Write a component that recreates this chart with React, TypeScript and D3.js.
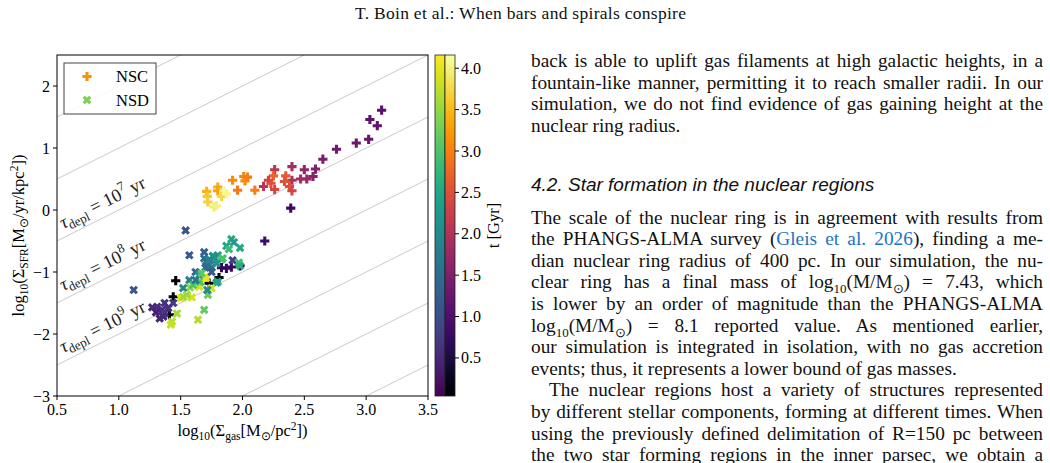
import React, { useLayoutEffect, useRef } from "react";
import * as d3 from "d3";

// nuclear star cluster (r < 150 pc): log gas surface density, log SFR surface density, time [Gyr]
const nscGas = [3.125, 3.03, 3.09, 3.02, 2.92, 2.76, 2.65, 2.59, 2.5, 2.4, 2.26, 2.57, 2.52, 2.47, 2.4, 2.35, 2.25, 2.21, 2.17, 2.23, 2.26, 2.34, 2.38, 2.4, 2.1, 2.01, 2.02, 2.04, 1.92, 1.96, 1.71, 1.715, 1.72, 1.77, 1.79, 1.8, 1.8, 1.85, 1.83, 1.87, 2.39, 2.18, 1.46, 1.44, 1.81, 1.73, 1.83, 1.87, 1.91, 1.98, 1.41];
const nscSfr = [1.61, 1.46, 1.36, 1.14, 1.08, 0.98, 0.82, 0.66, 0.65, 0.7, 0.65, 0.54, 0.5, 0.5, 0.48, 0.55, 0.55, 0.48, 0.38, 0.43, 0.33, 0.46, 0.38, 0.31, 0.32, 0.54, 0.47, 0.53, 0.48, 0.32, 0.3, 0.22, 0.13, 0.05, 0.07, 0.37, 0.31, 0.3, 0.22, 0.26, 0.03, -0.5, -1.14, -1.4, -1.09, -1.18, -0.93, -0.94, -0.92, -0.9, -1.69];
const nscAge = [1.1, 1.15, 1.2, 1.25, 1.3, 1.35, 1.45, 1.55, 1.7, 1.9, 2.1, 1.6, 1.75, 1.85, 1.95, 2.6, 2.7, 2.3, 2.1, 2.5, 2.4, 2.55, 2.5, 2.35, 3.0, 3.05, 3.1, 3.0, 3.1, 2.95, 3.45, 3.6, 3.7, 3.95, 4.0, 3.4, 3.3, 4.1, 3.75, 4.05, 0.8, 0.85, 0.1, 0.15, 0.2, 0.15, 0.7, 0.75, 0.8, 0.8, 0.3];

// nuclear stellar disc (150 pc < r < ring)
const nsdGas = [1.54, 1.12, 1.57, 1.69, 1.69, 1.74, 1.8, 1.84, 1.77, 1.72, 1.7, 1.75, 1.92, 1.97, 1.98, 1.91, 1.93, 1.87, 1.89, 1.98, 1.62, 1.65, 1.7, 1.57, 1.66, 1.79, 1.65, 1.575, 1.6, 1.52, 1.75, 1.72, 1.715, 1.655, 1.705, 1.67, 1.62, 1.75, 1.5, 1.52, 1.59, 1.55, 1.64, 1.69, 1.47, 1.43, 1.42, 1.31, 1.37, 1.35, 1.33, 1.37, 1.44, 1.4, 1.27, 1.76, 1.705, 1.73, 1.83, 1.79, 1.8, 1.3, 1.36];
const nsdSfr = [-0.33, -1.29, -0.73, -0.68, -0.78, -0.81, -0.73, -0.78, -0.76, -0.92, -0.93, -0.93, -0.81, -0.85, -0.9, -0.47, -0.52, -0.58, -0.63, -0.61, -1.0, -1.05, -1.08, -1.13, -1.17, -1.17, -1.24, -1.25, -1.21, -1.26, -1.26, -1.37, -1.29, -1.16, -1.1, -1.02, -1.13, -1.0, -1.42, -1.4, -1.41, -1.37, -1.77, -1.61, -1.67, -1.8, -1.85, -1.56, -1.5, -1.61, -1.75, -1.67, -1.5, -1.58, -1.57, -0.74, -0.83, -0.81, -0.8, -0.86, -1.16, -1.65, -1.72];
const nsdAge = [1.1, 1.15, 1.2, 1.25, 1.5, 1.9, 2.4, 2.9, 2.0, 1.8, 1.4, 1.6, 0.8, 2.9, 2.6, 2.55, 2.3, 2.45, 2.85, 2.5, 1.45, 2.3, 4.1, 1.8, 3.4, 2.2, 3.9, 3.5, 3.0, 1.9, 3.85, 3.2, 2.0, 3.0, 4.0, 3.1, 1.7, 1.2, 4.0, 3.6, 3.9, 3.55, 3.7, 3.15, 3.6, 3.7, 3.8, 0.6, 0.65, 0.55, 0.45, 0.7, 0.75, 0.6, 0.5, 2.1, 1.5, 1.85, 3.0, 2.1, 2.5, 0.4, 0.5];

const xTicks = [0.5, 1.0, 1.5, 2.0, 2.5, 3.0, 3.5];
const yTicks = [-3, -2, -1, 0, 1, 2];
const ageTicks = [0.5, 1.0, 1.5, 2.0, 2.5, 3.0, 3.5, 4.0];
// constant depletion time lines: log Σ_SFR = log Σ_gas + offset
const depletionOffsets = [2, 1, 0, -1, -2, -3, -4, -5, -6];
const depletionExponents = [7, 8, 9];

const SERIF = "'Liberation Serif', 'Times New Roman', serif";
const SANS = "'Liberation Sans', Arial, sans-serif";

function plusPath(h: number) {
  const a = h / 3;
  return `M${-a},${-h}L${a},${-h}L${a},${-a}L${h},${-a}L${h},${a}L${a},${a}L${a},${h}L${-a},${h}L${-a},${a}L${-h},${a}L${-h},${-a}L${-a},${-a}Z`;
}

function Sub({ children, size = 12, shift = 4 }: any) {
  return <tspan baselineShift={-shift} fontSize={size}>{children}</tspan>;
}

function Sup({ children, size = 12, shift = 7 }: any) {
  return <tspan baselineShift={shift} fontSize={size}>{children}</tspan>;
}

// a line of body text stretched to the column width by widening word gaps
function Line({ x, y, width, justify = true, children }: any) {
  const ref = useRef<SVGTextElement>(null);
  useLayoutEffect(() => {
    const el = ref.current;
    if (!el || !justify) return;
    const fit = () => {
      el.style.wordSpacing = "0px";
      const natural = el.getComputedTextLength();
      const gaps = (el.textContent || "").split(" ").length - 1;
      if (gaps > 0) el.style.wordSpacing = `${(width - natural) / gaps}px`;
    };
    fit();
    if (document.fonts) document.fonts.ready.then(fit);
  });
  return (
    <text ref={ref} x={x} y={y} fontFamily={SERIF} fontSize={19.3} fill="#111">
      {children}
    </text>
  );
}

function Chart() {
  const x = d3.scaleLinear().domain([0.5, 3.5]).range([57, 428]);
  const y = d3.scaleLinear().domain([-3, 2.5]).range([396, 55]);
  const cb = d3.scaleLinear().domain([0.04, 4.16]).range([396, 55]);
  const norm = (t: number) => (t - 0.04) / 4.12;
  const [x0, x1] = x.range();
  const [y0, y1] = y.range();
  const angle = (Math.atan2(y(1) - y(0), x(1) - x(0)) * 180) / Math.PI;
  const stops = d3.range(0, 1.0001, 0.05);
  const plus = plusPath(4.6);

  const nsc = nscGas.map((g, i) => ({ g, s: nscSfr[i], t: nscAge[i] }));
  const nsd = nsdGas.map((g, i) => ({ g, s: nsdSfr[i], t: nsdAge[i] }));

  const cbLeft = 435, cbMid = 445, cbRight = 455;

  return (
    <g fontFamily={SERIF} fill="#000">
      <defs>
        <clipPath id="plot-clip">
          <rect x={x0} y={y1} width={x1 - x0} height={y0 - y1} />
        </clipPath>
        <linearGradient id="cb-viridis" x1="0" y1="1" x2="0" y2="0">
          {stops.map((v) => (
            <stop key={v} offset={v} stopColor={d3.interpolateViridis(v)} />
          ))}
        </linearGradient>
        <linearGradient id="cb-inferno" x1="0" y1="1" x2="0" y2="0">
          {stops.map((v) => (
            <stop key={v} offset={v} stopColor={d3.interpolateInferno(v)} />
          ))}
        </linearGradient>
      </defs>

      {/* depletion time lines */}
      <g clipPath="url(#plot-clip)">
        {depletionOffsets.map((c) => (
          <line key={c} x1={x(0.5)} y1={y(0.5 + c)} x2={x(3.5)} y2={y(3.5 + c)}
            stroke="#c4c4c4" strokeWidth={0.9} />
        ))}
      </g>
      {depletionExponents.map((e) => {
        const c = 6 - e;
        return (
          <g key={e} transform={`translate(${x(0.58)},${y(0.58 + c)}) rotate(${angle})`}>
            <text y={-8} fontSize={18.5} fill="#222">
              <tspan fontStyle="italic">τ</tspan>
              <Sub size={13} shift={4}>depl</Sub>
              <tspan>{" = 10"}</tspan>
              <Sup size={13} shift={8}>{e}</Sup>
              <tspan>{" yr"}</tspan>
            </text>
          </g>
        );
      })}

      {/* points */}
      <g clipPath="url(#plot-clip)">
        {nsc.map((d, i) => (
          <path key={`c${i}`} d={plus} transform={`translate(${x(d.g)},${y(d.s)})`}
            fill={d3.interpolateInferno(norm(d.t))} />
        ))}
        {nsd.map((d, i) => (
          <path key={`d${i}`} d={plus} transform={`translate(${x(d.g)},${y(d.s)}) rotate(45)`}
            fill={d3.interpolateViridis(norm(d.t))} />
        ))}
      </g>

      {/* legend */}
      <rect x={64} y={63} width={92} height={51} fill="#fff" fillOpacity={0.85} stroke="#444" strokeWidth={1} />
      <path d={plus} transform="translate(87,76.5)" fill={d3.interpolateInferno(0.76)} />
      <text x={116} y={82} fontSize={16.5}>NSC</text>
      <path d={plus} transform="translate(87,100) rotate(45)" fill={d3.interpolateViridis(0.8)} />
      <text x={116} y={106} fontSize={16.5}>NSD</text>

      {/* frame and ticks */}
      <rect x={x0} y={y1} width={x1 - x0} height={y0 - y1} fill="none" stroke="#000" strokeWidth={1} />
      {xTicks.map((t) => (
        <g key={t}>
          <line x1={x(t)} x2={x(t)} y1={y0} y2={y0 + 4} stroke="#000" />
          <text x={x(t)} y={y0 + 19} fontSize={16} textAnchor="middle">{t.toFixed(1)}</text>
        </g>
      ))}
      {yTicks.map((t) => (
        <g key={t}>
          <line x1={x0 - 4} x2={x0} y1={y(t)} y2={y(t)} stroke="#000" />
          <text x={x0 - 7} y={y(t) + 5.5} fontSize={16} textAnchor="end">
            {t < 0 ? `\u2212${-t}` : `${t}`}
          </text>
        </g>
      ))}

      {/* axis labels */}
      <text x={(x0 + x1) / 2} y={436} fontSize={16.5} textAnchor="middle">
        <tspan>log</tspan>
        <Sub size={11.5}>10</Sub>
        <tspan>(Σ</tspan>
        <Sub size={11.5}>gas</Sub>
        <tspan>[M</tspan>
        <Sub size={11.5}>⊙</Sub>
        <tspan>/pc</tspan>
        <Sup size={11.5} shift={6}>2</Sup>
        <tspan>])</tspan>
      </text>
      <text transform={`translate(24,${(y0 + y1) / 2 + 10}) rotate(-90)`} fontSize={16.5} textAnchor="middle">
        <tspan>log</tspan>
        <Sub size={11.5}>10</Sub>
        <tspan>(Σ</tspan>
        <Sub size={11.5}>SFR</Sub>
        <tspan>[M</tspan>
        <Sub size={11.5}>⊙</Sub>
        <tspan>/yr/kpc</tspan>
        <Sup size={11.5} shift={6}>2</Sup>
        <tspan>])</tspan>
      </text>

      {/* colour bars: NSD (viridis) and NSC (inferno) */}
      <rect x={cbLeft} y={cb(4.16)} width={cbMid - cbLeft} height={cb(0.04) - cb(4.16)}
        fill="url(#cb-viridis)" stroke="#222" strokeWidth={0.8} />
      <rect x={cbMid} y={cb(4.16)} width={cbRight - cbMid} height={cb(0.04) - cb(4.16)}
        fill="url(#cb-inferno)" stroke="#222" strokeWidth={0.8} />
      {ageTicks.map((t) => (
        <g key={t}>
          <line x1={cbRight} x2={cbRight + 4} y1={cb(t)} y2={cb(t)} stroke="#000" />
          <text x={cbRight + 6} y={cb(t) + 5.5} fontSize={16}>{t.toFixed(1)}</text>
        </g>
      ))}
      <text transform={`translate(499,${(cb(0.04) + cb(4.16)) / 2}) rotate(-90)`} fontSize={16.5} textAnchor="middle">
        t [Gyr]
      </text>
    </g>
  );
}

export default function App() {
  const L = 531, W = 512;
  const lh = 21.6;
  const top = 67;
  const p2 = 223.5;
  return (
    <svg width={1050} height={463} viewBox="0 0 1050 463"
      style={{ position: "absolute", left: 0, top: 0, background: "#fff", display: "block" }}>
      <rect width={1050} height={463} fill="#fff" />
      <text x={355} y={19} fontFamily={SERIF} fontSize={17.5} textLength={331} lengthAdjust="spacing" fill="#111">
        T. Boin et al.: When bars and spirals conspire
      </text>

      <Chart />

      <Line x={L} y={top} width={W}>back is able to uplift gas filaments at high galactic heights, in a</Line>
      <Line x={L} y={top + lh} width={W}>fountain-like manner, permitting it to reach smaller radii. In our</Line>
      <Line x={L} y={top + 2 * lh} width={W}>simulation, we do not find evidence of gas gaining height at the</Line>
      <Line x={L} y={top + 3 * lh} width={W} justify={false}>nuclear ring radius.</Line>

      <text x={L} y={191} fontFamily={SANS} fontStyle="italic" fontSize={19} fill="#111">
        4.2. Star formation in the nuclear regions
      </text>

      <Line x={L} y={p2} width={W}>The scale of the nuclear ring is in agreement with results from</Line>
      <Line x={L} y={p2 + lh} width={W}>
        <tspan>{"the PHANGS-ALMA survey ("}</tspan>
        <tspan fill="#1a73c8">{"Gleis et al. 2026"}</tspan>
        <tspan>{"), finding a me-"}</tspan>
      </Line>
      <Line x={L} y={p2 + 2 * lh} width={W}>dian nuclear ring radius of 400 pc. In our simulation, the nu-</Line>
      <Line x={L} y={p2 + 3 * lh} width={W}>
        <tspan>{"clear ring has a final mass of log"}</tspan>
        <Sub size={13} shift={5}>10</Sub>
        <tspan>{"(M/M"}</tspan>
        <Sub size={13} shift={5}>⊙</Sub>
        <tspan>{") = 7.43, which"}</tspan>
      </Line>
      <Line x={L} y={p2 + 4 * lh} width={W}>is lower by an order of magnitude than the PHANGS-ALMA</Line>
      <Line x={L} y={p2 + 5 * lh} width={W}>
        <tspan>{"log"}</tspan>
        <Sub size={13} shift={5}>10</Sub>
        <tspan>{"(M/M"}</tspan>
        <Sub size={13} shift={5}>⊙</Sub>
        <tspan>{") = 8.1 reported value. As mentioned earlier,"}</tspan>
      </Line>
      <Line x={L} y={p2 + 6 * lh} width={W}>our simulation is integrated in isolation, with no gas accretion</Line>
      <Line x={L} y={p2 + 7 * lh} width={W} justify={false}>events; thus, it represents a lower bound of gas masses.</Line>
      <Line x={L + 18} y={p2 + 8 * lh} width={W - 18}>The nuclear regions host a variety of structures represented</Line>
      <Line x={L} y={p2 + 9 * lh} width={W}>by different stellar components, forming at different times. When</Line>
      <Line x={L} y={p2 + 10 * lh} width={W}>using the previously defined delimitation of R=150 pc between</Line>
      <Line x={L} y={p2 + 11 * lh} width={W}>the two star forming regions in the inner parsec, we obtain a</Line>
    </svg>
  );
}
